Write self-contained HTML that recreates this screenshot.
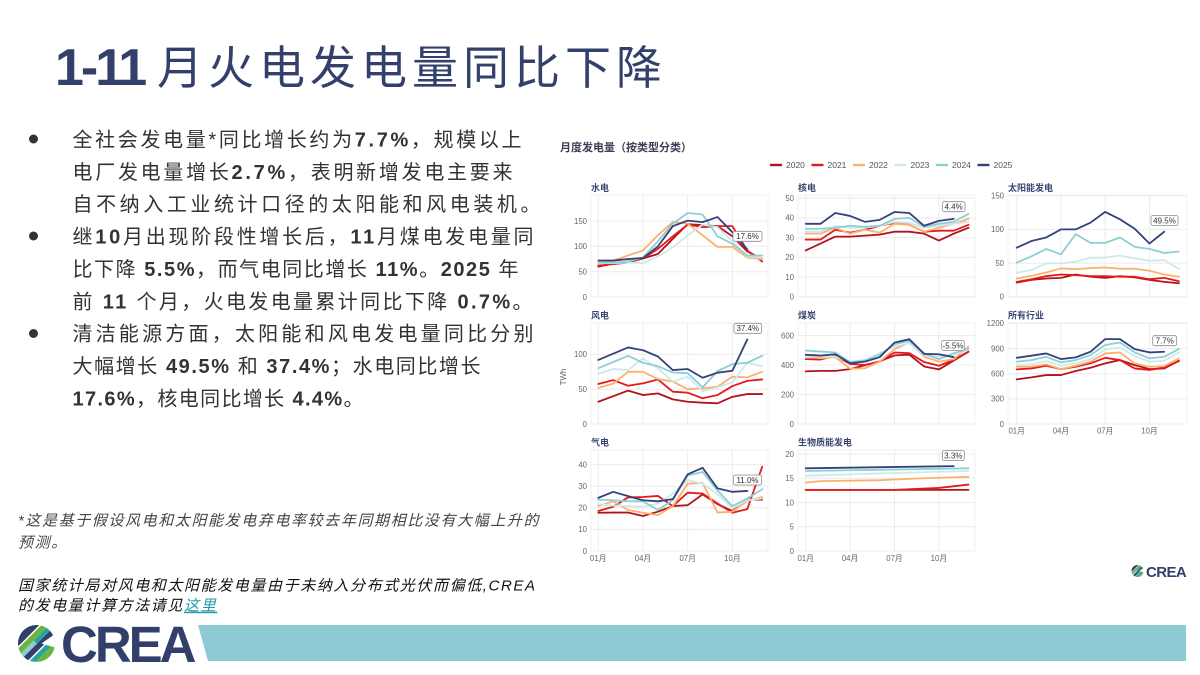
<!DOCTYPE html>
<html><head><meta charset="utf-8">
<style>
html,body{margin:0;padding:0;background:#fff;}
svg{display:block;}
.cj{font-family:"Liberation Sans","Noto Sans CJK SC",sans-serif;}
.tk{font-family:"Liberation Sans",sans-serif;font-size:7.8px;fill:#666;}
.tkr{text-anchor:end;}
.tkc{text-anchor:middle;}
.pt{font-family:"Liberation Sans","Noto Sans CJK SC",sans-serif;font-size:9px;font-weight:bold;fill:#3b4675;}
.gr{stroke:#ececec;stroke-width:1;fill:none;}
.fr{stroke:#f0f0f0;stroke-width:1;fill:none;}
polyline{fill:none;stroke-width:1.8;vector-effect:non-scaling-stroke;stroke-linejoin:round;stroke-linecap:round;}
.s0{stroke:#b0141c;}.s1{stroke:#e41a1c;}.s2{stroke:#fdb06b;}.s3{stroke:#cde9ee;}.s4{stroke:#8ccfd4;}.s5{stroke:#34427a;}
.ab{fill:#fff;stroke:#8a8a8a;stroke-width:0.8;}
.at{font-family:"Liberation Sans",sans-serif;font-size:8px;fill:#333;text-anchor:middle;}
.bd{font-family:"Liberation Sans","Noto Sans CJK SC",sans-serif;font-size:20px;fill:#333;}
.bd tspan.n{font-weight:bold;}
.fn{font-family:"Liberation Sans","Noto Sans CJK SC",sans-serif;font-size:15px;font-style:italic;letter-spacing:1.6px;}
.lg{font-family:"Liberation Sans",sans-serif;font-size:8.5px;fill:#555;}
</style></head>
<body>
<svg width="1200" height="675" viewBox="0 0 1200 675" xmlns="http://www.w3.org/2000/svg">
<defs>
<clipPath id="lc"><circle cx="0" cy="0" r="18.5"/></clipPath>
<symbol id="ic" viewBox="-18.5 -18.5 37 37">
<g clip-path="url(#lc)">
<g transform="rotate(-45)">
<rect x="-30" y="-30" width="60" height="19" fill="#323f6b"/>
<rect x="-30" y="-9.5" width="60" height="5.5" fill="#6db33f"/>
<rect x="-30" y="-4" width="30" height="4.5" fill="#8ecad3"/>
<rect x="0" y="-4" width="30" height="4.5" fill="#26a69a"/>
<rect x="-30" y="0.5" width="60" height="5.5" fill="#323f6b"/>
<rect x="-30" y="7.5" width="60" height="5" fill="#26a69a"/>
<rect x="-30" y="12.5" width="60" height="20" fill="#6db33f"/>
</g>
<polygon points="5,0 22,-12 22,5" fill="#fff"/>
</g>
</symbol>
</defs>

<!-- Title -->
<text x="55" y="85" style="font-family:'Liberation Sans',sans-serif;font-weight:bold;font-size:52px;fill:#34406c;letter-spacing:-3px;">1-11</text>
<text x="157" y="84" class="cj" style="font-size:46px;fill:#34406c;letter-spacing:5px;">月火电发电量同比下降</text>

<!-- Bullets -->
<circle cx="33.5" cy="139" r="4.5" fill="#333"/>
<circle cx="33.5" cy="236" r="4.5" fill="#333"/>
<circle cx="33.5" cy="333.5" r="4.5" fill="#333"/>

<text class="bd" x="72.5" y="146.5" textLength="449" lengthAdjust="spacing">全社会发电量*同比增长约为<tspan class="n">7.7%</tspan>，规模以上</text>
<text class="bd" x="72.5" y="178.9" textLength="440" lengthAdjust="spacing">电厂发电量增长<tspan class="n">2.7%</tspan>，表明新增发电主要来</text>
<text class="bd" x="72.5" y="211.2" textLength="468" lengthAdjust="spacing">自不纳入工业统计口径的太阳能和风电装机。</text>
<text class="bd" x="72.5" y="243.6" textLength="461" lengthAdjust="spacing">继<tspan class="n">10</tspan>月出现阶段性增长后，<tspan class="n">11</tspan>月煤电发电量同</text>
<text class="bd" x="72.5" y="275.9" textLength="446" lengthAdjust="spacing">比下降 <tspan class="n">5.5%</tspan>，而气电同比增长 <tspan class="n">11%</tspan>。<tspan class="n">2025</tspan> 年</text>
<text class="bd" x="72.5" y="308.3" textLength="460" lengthAdjust="spacing">前 <tspan class="n">11</tspan> 个月，火电发电量累计同比下降 <tspan class="n">0.7%</tspan>。</text>
<text class="bd" x="72.5" y="340.6" textLength="461" lengthAdjust="spacing">清洁能源方面，太阳能和风电发电量同比分别</text>
<text class="bd" x="72.5" y="373" textLength="408" lengthAdjust="spacing">大幅增长 <tspan class="n">49.5%</tspan> 和 <tspan class="n">37.4%</tspan>；水电同比增长</text>
<text class="bd" x="72.5" y="405.3" textLength="291" lengthAdjust="spacing"><tspan class="n">17.6%</tspan>，核电同比增长 <tspan class="n">4.4%</tspan>。</text>

<!-- Footnotes -->
<text class="fn" x="18" y="525.7" fill="#444">*这是基于假设风电和太阳能发电弃电率较去年同期相比没有大幅上升的</text>
<text class="fn" x="18" y="547.4" fill="#444">预测。</text>
<text class="fn" x="18" y="590.7" fill="#111">国家统计局对风电和太阳能发电量由于未纳入分布式光伏而偏低,CREA</text>
<text class="fn" x="18" y="610.7" fill="#111">的发电量计算方法请见<tspan fill="#1e9aa8" text-decoration="underline">这里</tspan></text>

<!-- Bottom band & logo -->
<polygon points="198,625 1186,625 1186,661 208,661" fill="#8ecad3"/>
<use href="#ic" x="18" y="625" width="37" height="37"/>
<text x="61" y="662" style="font-family:'Liberation Sans',sans-serif;font-weight:bold;font-size:51px;fill:#323f6b;letter-spacing:-3px;">CREA</text>
<use href="#ic" x="1131.5" y="565" width="12" height="12"/>
<text x="1146" y="577" style="font-family:'Liberation Sans',sans-serif;font-weight:bold;font-size:15px;fill:#323f6b;letter-spacing:-0.6px;">CREA</text>

<!-- Chart title -->
<text x="560" y="151" class="cj" style="font-size:11px;font-weight:bold;fill:#3c3f58;">月度发电量（按类型分类）</text>

<!-- Legend -->
<g stroke-width="2.4">
<line x1="770" y1="165" x2="782" y2="165" stroke="#b0141c"/>
<line x1="811.5" y1="165" x2="823.5" y2="165" stroke="#e41a1c"/>
<line x1="853" y1="165" x2="865" y2="165" stroke="#fdb06b"/>
<line x1="894.5" y1="165" x2="906.5" y2="165" stroke="#cde9ee"/>
<line x1="936" y1="165" x2="948" y2="165" stroke="#8ccfd4"/>
<line x1="977.5" y1="165" x2="989.5" y2="165" stroke="#34427a"/>
</g>
<text class="lg" x="786" y="168">2020</text>
<text class="lg" x="827.5" y="168">2021</text>
<text class="lg" x="869" y="168">2022</text>
<text class="lg" x="910.5" y="168">2023</text>
<text class="lg" x="952" y="168">2024</text>
<text class="lg" x="993.5" y="168">2025</text>

<!-- Panel titles -->
<text class="pt" x="591" y="191">水电</text>
<text class="pt" x="798" y="191">核电</text>
<text class="pt" x="1008" y="191">太阳能发电</text>
<text class="pt" x="591" y="318.5">风电</text>
<text class="pt" x="798" y="318.5">煤炭</text>
<text class="pt" x="1008" y="318.5">所有行业</text>
<text class="pt" x="591" y="445.5">气电</text>
<text class="pt" x="798" y="445.5">生物质能发电</text>

<!-- Frames -->
<rect class="fr" x="591" y="195" width="177" height="102"/>
<rect class="fr" x="798" y="195" width="177" height="102"/>
<rect class="fr" x="1008" y="195" width="179" height="102"/>
<rect class="fr" x="591" y="323" width="177" height="101"/>
<rect class="fr" x="798" y="323" width="177" height="101"/>
<rect class="fr" x="1008" y="323" width="179" height="101"/>
<rect class="fr" x="591" y="450" width="177" height="101"/>
<rect class="fr" x="798" y="450" width="177" height="101"/>

<!-- Gridlines -->
<g class="gr">
<path d="M598.3 195V297M643 195V297M687.7 195V297M732.4 195V297"/>
<path d="M598.3 323V424M643 323V424M687.7 323V424M732.4 323V424"/>
<path d="M598.3 450V551M643 450V551M687.7 450V551M732.4 450V551"/>
<path d="M805.7 195V297M850.1 195V297M894.5 195V297M938.9 195V297"/>
<path d="M805.7 323V424M850.1 323V424M894.5 323V424M938.9 323V424"/>
<path d="M805.7 450V551M850.1 450V551M894.5 450V551M938.9 450V551"/>
<path d="M1016.7 195V297M1061 195V297M1105.2 195V297M1149.5 195V297"/>
<path d="M1016.7 323V424M1061 323V424M1105.2 323V424M1149.5 323V424"/>
<path d="M591 297H768M591 271.7H768M591 246.4H768M591 221.1H768"/>
<path d="M798 296.7H975M798 277H975M798 257.3H975M798 237.6H975M798 217.9H975M798 198.2H975"/>
<path d="M1008 296.7H1187M1008 263.1H1187M1008 229.4H1187M1008 195.8H1187"/>
<path d="M591 424H768M591 389.2H768M591 354.4H768"/>
<path d="M798 424H975M798 394.5H975M798 365H975M798 335.5H975"/>
<path d="M1008 424H1187M1008 398.9H1187M1008 373.7H1187M1008 348.6H1187M1008 323.4H1187"/>
<path d="M591 551H768M591 529.4H768M591 507.8H768M591 486.2H768M591 464.6H768"/>
<path d="M798 551H975M798 526.75H975M798 502.5H975M798 478.25H975M798 454H975"/>
</g>

<!-- Tick labels -->
<g class="tk tkr">
<text x="587" y="299.8">0</text><text x="587" y="274.5">50</text><text x="587" y="249.2">100</text><text x="587" y="223.9">150</text>
<text x="794" y="299.5">0</text><text x="794" y="279.8">10</text><text x="794" y="260.1">20</text><text x="794" y="240.4">30</text><text x="794" y="220.7">40</text><text x="794" y="201">50</text>
<text x="1004" y="299.5">0</text><text x="1004" y="265.9">50</text><text x="1004" y="232.2">100</text><text x="1004" y="198.5">150</text>
<text x="587" y="426.8">0</text><text x="587" y="392">50</text><text x="587" y="357.2">100</text>
<text x="794" y="426.8">0</text><text x="794" y="397.3">200</text><text x="794" y="367.8">400</text><text x="794" y="338.3">600</text>
<text x="1004" y="426.8">0</text><text x="1004" y="401.7">300</text><text x="1004" y="376.5">600</text><text x="1004" y="351.4">900</text><text x="1004" y="326.2">1200</text>
<text x="587" y="553.8">0</text><text x="587" y="532.2">10</text><text x="587" y="510.6">20</text><text x="587" y="489">30</text><text x="587" y="467.4">40</text>
<text x="794" y="553.8">0</text><text x="794" y="529.5">5</text><text x="794" y="505.3">10</text><text x="794" y="481">15</text><text x="794" y="456.8">20</text>
</g>
<g class="tk tkc cj" style="font-size:7.8px;fill:#666;">
<text x="598.3" y="561">01月</text><text x="643" y="561">04月</text><text x="687.7" y="561">07月</text><text x="732.4" y="561">10月</text>
<text x="805.7" y="561">01月</text><text x="850.1" y="561">04月</text><text x="894.5" y="561">07月</text><text x="938.9" y="561">10月</text>
<text x="1016.7" y="433.5">01月</text><text x="1061" y="433.5">04月</text><text x="1105.2" y="433.5">07月</text><text x="1149.5" y="433.5">10月</text>
</g>
<text class="tk" x="0" y="0" transform="translate(566,377) rotate(-90)" text-anchor="middle">TWh</text>

<!-- P1 水电 -->
<g transform="matrix(14.9 0 0 -0.506 583.4 297)">
<polyline class="s0" points="1,60 2,66 3,70 4,76 5,85 6,115 7,144 8,142 9,140 10,120 11,90 12,75"/>
<polyline class="s1" points="1,62 2,65 3,68 4,76 5,95 6,120 7,143 8,138 9,140 10,140 11,92 12,70"/>
<polyline class="s2" points="1,65 2,72 3,82 4,92 5,122 6,148 7,145 8,122 9,99 10,99 11,78 12,75"/>
<polyline class="s3" points="1,67 2,67 3,68 4,67 5,80 6,98 7,122 8,143 9,138 10,110 11,80 12,78"/>
<polyline class="s4" points="1,68 2,68 3,70 4,78 5,110 6,145 7,166 8,163 9,120 10,105 11,82 12,82"/>
<polyline class="s5" points="1,72 2,72 3,75 4,77 5,100 6,140 7,151 8,148 9,158 10,128 11,94"/>
</g>
<!-- P2 核电 -->
<g transform="matrix(14.8 0 0 -1.97 790.9 296.7)">
<polyline class="s0" points="1,23.5 2,27 3,30.5 4,30.5 5,31 6,31.5 7,33 8,33 9,32 10,28.5 11,32 12,35"/>
<polyline class="s1" points="1,29 2,29 3,34 4,32.5 5,34 6,36 7,37.5 8,36.5 9,33 10,33.5 11,33.5 12,36.5"/>
<polyline class="s2" points="1,32 2,32 3,35 4,32 5,34 6,32.5 7,37 8,36.5 9,33 10,35 11,37 12,39.5"/>
<polyline class="s3" points="1,33 2,33 3,36 4,35 5,35 6,36 7,38 8,37.5 9,35 10,36 11,37 12,38"/>
<polyline class="s4" points="1,34.5 2,34.5 3,35 4,36 5,35.5 6,36 7,39.5 8,40 9,35.5 10,37 11,38 12,42"/>
<polyline class="s5" points="1,37 2,37 3,42.5 4,41 5,38 6,39 7,43 8,42.5 9,36 10,38.5 11,39.5"/>
</g>
<!-- P3 太阳能 -->
<g transform="matrix(14.75 0 0 -0.673 1001.95 296.7)">
<polyline class="s0" points="1,21 2,25 3,27 4,28 5,33 6,29.7 7,28 8,30.5 9,28.7 10,25 11,22 12,20"/>
<polyline class="s1" points="1,22 2,26 3,30.5 4,33 5,32 6,30.5 7,30.5 8,29.7 9,29.7 10,26 11,28 12,23"/>
<polyline class="s2" points="1,27 2,31 3,36 4,42 5,41 6,42.5 7,43.5 8,41.5 9,41.5 10,38.5 11,33 12,29.7"/>
<polyline class="s3" points="1,35.6 2,39.6 3,49.5 4,49.5 5,52 6,58 7,58 8,61 9,57 10,53.5 11,54.5 12,41"/>
<polyline class="s4" points="1,50.5 2,60 3,71 4,63 5,93 6,80 7,80 8,88 9,74 10,71 11,65 12,67"/>
<polyline class="s5" points="1,72.8 2,82.7 3,88 4,100 5,100 6,110 7,126 8,115 9,101 10,79 11,96.5"/>
</g>
<!-- P4 风电 -->
<g transform="matrix(14.9 0 0 -0.696 583.4 424)">
<polyline class="s0" points="1,32 2,40 3,48 4,41.6 5,44 6,35.4 7,32 8,30.6 9,29.7 10,39 11,43 12,43"/>
<polyline class="s1" points="1,57.4 2,63 3,55 4,58.4 5,64 6,46.4 7,45 8,37 9,41.6 10,54.5 11,62 12,64"/>
<polyline class="s2" points="1,52 2,58 3,75 4,75 5,64.6 6,61 7,50 8,51 9,53.6 10,68 11,67 12,75"/>
<polyline class="s3" points="1,72 2,79 3,77.5 4,94 5,80 6,61 7,68 8,47 9,52.6 10,60 11,88 12,83"/>
<polyline class="s4" points="1,80 2,89 3,98 4,88 5,83 6,74 7,73 8,52.6 9,76 10,86 11,88 12,98"/>
<polyline class="s5" points="1,92 2,101 3,110 4,106 5,97 6,77.5 7,79 8,66.5 9,73.7 10,76.5 11,121.5"/>
</g>
<!-- P5 煤炭 -->
<g transform="matrix(14.8 0 0 -0.1475 790.9 424)">
<polyline class="s0" points="1,357 2,360 3,360 4,372 5,398 6,425 7,465 8,470 9,390 10,370 11,430 12,490"/>
<polyline class="s1" points="1,440 2,437 3,462 4,407 5,401 6,423 7,485 8,480 9,420 10,395 11,435 12,490"/>
<polyline class="s2" points="1,457 2,446 3,453 4,374 5,378 6,423 7,507 8,552 9,457 10,423 11,439 12,525"/>
<polyline class="s3" points="1,457 2,457 3,457 4,423 5,435 6,480 7,525 8,548 9,464 10,457 11,469 12,503"/>
<polyline class="s4" points="1,498 2,491 3,485 4,419 5,430 6,469 7,541 8,564 9,480 10,439 11,480 12,510"/>
<polyline class="s5" points="1,469 2,464 3,473 4,412 5,423 6,453 7,552 8,575 9,475 10,473 11,453"/>
</g>
<!-- P6 所有行业 -->
<g transform="matrix(14.75 0 0 -0.0838 1001.95 424)">
<polyline class="s0" points="1,532 2,556 3,584 4,584 5,632 6,671 7,723 8,763 9,703 10,655 11,663 12,755"/>
<polyline class="s1" points="1,652 2,663 3,695 4,655 5,683 6,723 7,790 8,763 9,663 10,644 11,675 12,751"/>
<polyline class="s2" points="1,683 2,683 3,711 4,655 5,695 6,743 7,842 8,854 9,723 10,683 11,691 12,783"/>
<polyline class="s3" points="1,703 2,711 3,751 4,695 5,723 6,771 7,890 8,910 9,810 10,743 11,755 12,854"/>
<polyline class="s4" points="1,743 2,763 3,802 4,735 5,763 6,822 7,942 8,973 9,854 10,783 11,803 12,894"/>
<polyline class="s5" points="1,790 2,815 3,842 4,775 5,795 6,862 7,1013 8,1013 9,894 10,854 11,862"/>
</g>
<!-- P7 气电 -->
<g transform="matrix(14.9 0 0 -2.16 583.4 551)">
<polyline class="s0" points="1,17.7 2,17.8 3,17.8 4,16.2 5,18.2 6,20.8 7,21.2 8,26.2 9,21.7 10,18.5 11,23.8 12,23.8"/>
<polyline class="s1" points="1,18.5 2,20.5 3,24.8 4,25 5,25.5 6,20.8 7,27 8,26.6 9,22 10,17.7 11,19.4 12,39"/>
<polyline class="s2" points="1,20.8 2,23 3,19 4,17.7 5,16.6 6,20.8 7,31.2 8,31.5 9,17.8 10,18.2 11,23.2 12,25"/>
<polyline class="s3" points="1,21.7 2,21 3,20.8 4,20.5 5,22 6,26.6 7,32.8 8,31.2 9,26.3 10,19.7 11,23.5 12,24.3"/>
<polyline class="s4" points="1,23.8 2,23.5 3,23 4,23 5,19 6,23.5 7,35 8,36.6 9,28 10,20.8 11,24.3 12,28.6"/>
<polyline class="s5" points="1,24.6 2,27.4 3,25.4 4,23.5 5,23 6,24 7,35.5 8,38.5 9,29 10,27.4 11,27.8"/>
</g>
<!-- P8 生物质 -->
<g transform="matrix(14.8 0 0 -4.85 790.9 551)">
<polyline class="s0" points="1,12.6 12,12.6"/>
<polyline class="s1" points="1,12.6 7,12.6 10,13.0 12,13.7"/>
<polyline class="s2" points="1,14.1 2,14.4 6,14.6 9,15.0 12,15.3"/>
<polyline class="s3" points="1,15.5 6,16.0 12,16.5"/>
<polyline class="s4" points="1,16.5 12,17.05"/>
<polyline class="s5" points="1,17.05 11,17.5"/>
</g>

<!-- Annotation boxes -->
<rect class="ab" x="733" y="231.3" width="29" height="10" rx="2"/><text class="at" x="747.5" y="239.2">17.6%</text>
<rect class="ab" x="942.3" y="201.7" width="22.7" height="10" rx="2"/><text class="at" x="953.6" y="209.6">4.4%</text>
<rect class="ab" x="1151" y="215.5" width="27" height="10" rx="2"/><text class="at" x="1164.5" y="223.4">49.5%</text>
<rect class="ab" x="734" y="323.3" width="27.7" height="10" rx="2"/><text class="at" x="747.8" y="331.2">37.4%</text>
<rect class="ab" x="941.7" y="340.5" width="22.6" height="10" rx="2"/><text class="at" x="953" y="348.4">-5.5%</text>
<rect class="ab" x="1152.7" y="335.7" width="24" height="10" rx="2"/><text class="at" x="1164.7" y="343.6">7.7%</text>
<rect class="ab" x="733.3" y="475" width="28.4" height="10" rx="2"/><text class="at" x="747.5" y="482.9">11.0%</text>
<rect class="ab" x="942.3" y="450.5" width="22" height="10" rx="2"/><text class="at" x="953.3" y="458.4">3.3%</text>
</svg>
</body></html>
